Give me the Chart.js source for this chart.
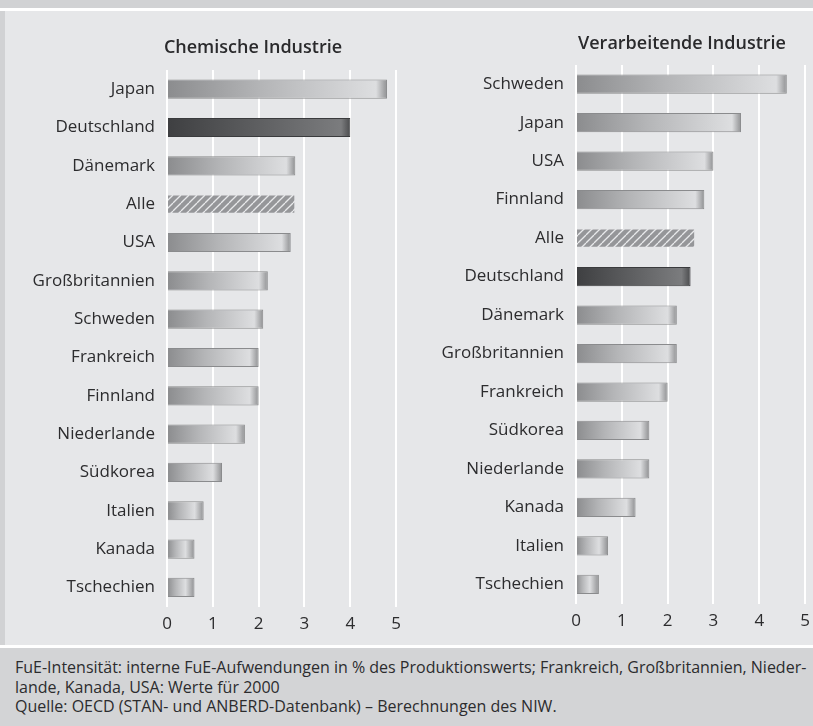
<!DOCTYPE html>
<html lang="de">
<head>
<meta charset="utf-8">
<script src="https://cdn.jsdelivr.net/npm/chart.js@4"></script>
<style>
  html, body { margin: 0; padding: 0; }
  body { width: 813px; height: 726px; background: #d1d2d4; position: relative; overflow: hidden; font-family: "Open Sans", sans-serif; }
  #panel { position: absolute; left: 5px; top: 11px; width: 808px; height: 634px; background: #e6e7e9; overflow: hidden; }
  #topline { position: absolute; left: 0; top: 8px; width: 813px; height: 3px; background: #ffffff; }
  #botline { position: absolute; left: 0; top: 645px; width: 813px; height: 3px; background: #ffffff; }
  .box { position: absolute; top: 0; }
  #left { left: 0; width: 403px; height: 634px; }
  #right { left: 405px; width: 407px; height: 634px; }
  .title { position: absolute; font-size: 18px; font-weight: 600; color: #2a2a2c; white-space: nowrap; transform: translateX(-50%); line-height: 22px; }
  #footer { position: absolute; left: 0; top: 648px; width: 813px; height: 78px; background: #d3d4d6; }
  #footer p { margin: 0; position: absolute; left: 15px; top: 10px; width: 800px; font-size: 16px; line-height: 19.5px; color: #2c2c2e; white-space: nowrap; }
</style>
</head>
<body>
<div id="topline"></div>
<div id="panel">
  <div class="box" id="left"><canvas id="chemChart"></canvas></div>
  <div class="box" id="right"><canvas id="verChart"></canvas></div>
  <div class="title" style="left:248px; top:24px;">Chemische Industrie</div>
  <div class="title" style="left:677px; top:20px;">Verarbeitende Industrie</div>
</div>
<div id="botline"></div>
<div id="footer"><p>FuE-Intensität: interne FuE-Aufwendungen in % des Produktionswerts; Frankreich, Großbritannien, Nieder-<br>lande, Kanada, USA: Werte für 2000<br>Quelle: OECD (STAN- und ANBERD-Datenbank) – Berechnungen des NIW.</p></div>
<script>
const chemLabels = ["Japan", "Deutschland", "Dänemark", "Alle", "USA", "Großbritannien", "Schweden",
  "Frankreich", "Finnland", "Niederlande", "Südkorea", "Italien", "Kanada", "Tschechien"];
const chemValues = [4.8, 4.0, 2.8, 2.8, 2.7, 2.2, 2.1, 2.0, 2.0, 1.7, 1.2, 0.8, 0.6, 0.6];

const verLabels = ["Schweden", "Japan", "USA", "Finnland", "Alle", "Deutschland", "Dänemark",
  "Großbritannien", "Frankreich", "Südkorea", "Niederlande", "Kanada", "Italien", "Tschechien"];
const verValues = [4.6, 3.6, 3.0, 2.8, 2.6, 2.5, 2.2, 2.2, 2.0, 1.6, 1.6, 1.3, 0.7, 0.5];

const xTicks = [0, 1, 2, 3, 4, 5];

const TEXT = "#2c2c2e";
const FONT = "'Open Sans', sans-serif";

let hatch;
function hatchPattern(ctx) {
  if (hatch) return hatch;
  const c = document.createElement("canvas");
  c.width = 8; c.height = 8;
  const p = c.getContext("2d");
  p.fillStyle = "#959699";
  p.fillRect(0, 0, 8, 8);
  p.strokeStyle = "#e8e9eb";
  p.lineWidth = 1.3;
  for (let k = -1; k <= 1; k++) {
    p.beginPath();
    p.moveTo(k * 8, 8);
    p.lineTo(k * 8 + 8, 0);
    p.stroke();
  }
  hatch = ctx.createPattern(c, "repeat");
  return hatch;
}

// horizontal shaded bar with a bevelled right end
function barFill(context) {
  const chart = context.chart;
  const label = chart.data.labels[context.dataIndex];
  if (label === "Alle") return hatchPattern(chart.ctx);
  const x = chart.scales.x;
  if (!x || context.raw == null) return "#a0a1a3";
  const x0 = x.getPixelForValue(0);
  const x1 = x.getPixelForValue(context.raw);
  if (!isFinite(x0) || !isFinite(x1)) return "#a0a1a3";
  const len = Math.max(x1 - x0, 1);
  const g = chart.ctx.createLinearGradient(x0, 0, x0 + len, 0);
  const edge = Math.min(0.95, Math.max(0.5, 1 - 9 / len));
  if (label === "Deutschland") {
    g.addColorStop(0, "#3e3f41");
    g.addColorStop(edge, "#7b7c7e");
    g.addColorStop(1, "#4a4b4d");
  } else {
    g.addColorStop(0, "#8b8c8e");
    g.addColorStop(edge * 0.45, "#b4b5b7");
    g.addColorStop(edge, "#dddee0");
    g.addColorStop(1, "#8f9092");
  }
  return g;
}

function barBorder(context) {
  const label = context.chart.data.labels[context.dataIndex];
  if (label === "Alle") return "rgba(0,0,0,0)";
  return label === "Deutschland" ? "#3a3b3d" : "#8a8b8d";
}

function makeChart(id, labels, values, opt) {
  return new Chart(document.getElementById(id), {
    type: "bar",
    data: {
      labels: labels,
      datasets: [{
        data: values,
        backgroundColor: barFill,
        borderColor: barBorder,
        borderWidth: 1,
        borderSkipped: "left",
        barPercentage: 0.5,
        categoryPercentage: 1
      }]
    },
    options: {
      indexAxis: "y",
      responsive: true,
      maintainAspectRatio: false,
      animation: false,
      layout: { padding: { top: opt.padTop, right: opt.padRight, bottom: opt.padBottom, left: 0 } },
      plugins: {
        legend: { display: false },
        tooltip: { enabled: false },
        title: { display: false }
      },
      scales: {
        x: {
          min: 0,
          max: 5,
          afterBuildTicks: (s) => { s.ticks = xTicks.map(v => ({ value: v })); },
          grid: { color: "#ffffff", lineWidth: 2, drawTicks: false },
          border: { display: false },
          ticks: { color: TEXT, font: { family: FONT, size: 17 }, padding: 7 }
        },
        y: {
          afterFit: (s) => { s.width = opt.yWidth; },
          grid: { display: false, drawTicks: false },
          border: { display: false },
          ticks: { color: TEXT, font: { family: FONT, size: 17 }, padding: 12, autoSkip: false }
        }
      }
    }
  });
}

makeChart("chemChart", chemLabels, chemValues,
  { yWidth: 162, padTop: 59, padRight: 5, padBottom: 4 });
makeChart("verChart", verLabels, verValues,
  { yWidth: 166, padTop: 54, padRight: 3, padBottom: 7 });
</script>
</body>
</html>
